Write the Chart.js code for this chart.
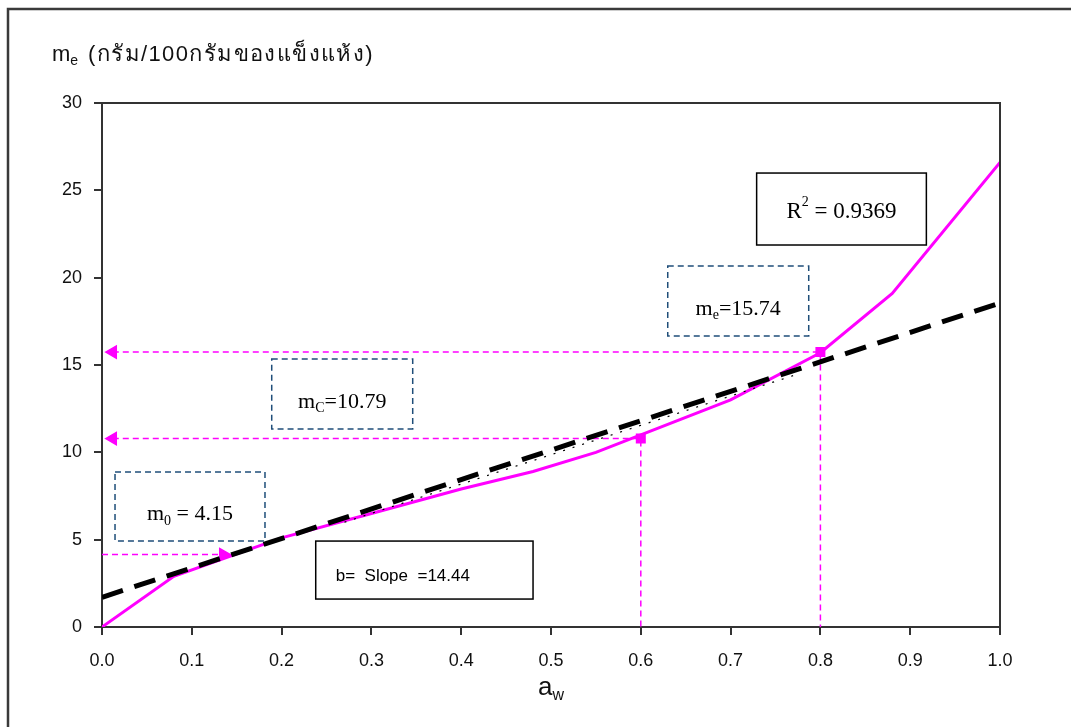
<!DOCTYPE html>
<html>
<head>
<meta charset="utf-8">
<script src="https://cdn.jsdelivr.net/npm/chart.js@4/dist/chart.umd.min.js"></script>
<style>
  body { margin: 0; background: #fff; }
  canvas { display: block; }
</style>
</head>
<body>
<canvas id="isothermChart" width="1071" height="727"></canvas>
<script>
// sorption isotherm
const awValues = [0, 0.08, 0.2, 0.3, 0.4, 0.48, 0.55, 0.6, 0.7, 0.8, 0.88, 1.0];
const meValues = [0, 2.9, 5.1, 6.5, 7.9, 8.9, 10.0, 11.0, 13.0, 15.7, 19.1, 26.6];

// linear fit (thick dashed) and thin tangent
const fitAw = [0, 1.0];
const fitMe = [1.7, 18.55];
const tangentAw = [0.27, 0.77];
const tangentMe = [6.0, 14.4];

// reading points
const m0 = 4.15;
const m0Aw = 0.135;
const mC = 10.79;
const mCAw = 0.6;
const mE = 15.74;
const mEAw = 0.8;

const xTicks = [0, 0.1, 0.2, 0.3, 0.4, 0.5, 0.6, 0.7, 0.8, 0.9, 1.0];
const yTicks = [0, 5, 10, 15, 20, 25, 30];

const pts = (xs, ys) => xs.map((x, i) => ({ x: x, y: ys[i] }));

const PINK = "#ff00ff";
const sansFont = "'Liberation Sans', Arial, 'Noto Sans', sans-serif";
const serifFont = "'Liberation Serif', 'Times New Roman', 'DejaVu Serif', serif";

const guideStyle = {
    borderColor: PINK,
    borderWidth: 1.5,
    borderDash: [6, 4],
    backgroundColor: PINK,
    pointBackgroundColor: PINK,
    pointBorderColor: PINK,
    fill: false,
    tension: 0
};

// text boxes, in data units
const notes = [
    { x0: 0.0145, x1: 0.1815, y0: 8.87, y1: 4.92, dashed: true, font: serifFont, size: 22, dy: 8,
      parts: [["m", 0], ["0", 1], [" = 4.15", 0]] },
    { x0: 0.238, x1: 0.48, y0: 4.92, y1: 1.6, dashed: false, font: sansFont, size: 17, dy: 6, left: 20,
      parts: [["b=  Slope  =14.44", 0]] },
    { x0: 0.189, x1: 0.346, y0: 15.34, y1: 11.34, dashed: true, font: serifFont, size: 22, dy: 8,
      parts: [["m", 0], ["C", 1], ["=10.79", 0]] },
    { x0: 0.630, x1: 0.787, y0: 20.67, y1: 16.66, dashed: true, font: serifFont, size: 22, dy: 8,
      parts: [["m", 0], ["e", 1], ["=15.74", 0]] },
    { x0: 0.729, x1: 0.918, y0: 25.99, y1: 21.87, dashed: false, font: serifFont, size: 23, dy: 3,
      parts: [["R", 0], ["2", 2], [" = 0.9369", 0]] }
];

function drawParts(ctx, parts, font, size, cx, cy, align, spacing) {
    const small = Math.round(size * 0.62);
    let total = 0;
    ctx.letterSpacing = (spacing || 0) + "px";
    parts.forEach(p => {
        ctx.font = (p[1] ? small : size) + "px " + font;
        total += ctx.measureText(p[0]).width;
    });
    let x = align === "left" ? cx : cx - total / 2;
    ctx.textBaseline = "middle";
    ctx.textAlign = "left";
    parts.forEach(p => {
        ctx.font = (p[1] ? small : size) + "px " + font;
        let y = cy;
        if (p[1] === 1) y = cy + size * 0.3;
        if (p[1] === 2) y = cy - size * 0.4;
        ctx.fillText(p[0], x, y);
        x += ctx.measureText(p[0]).width;
    });
    ctx.letterSpacing = "0px";
}

const framePlugin = {
    id: "frame",
    beforeDraw(chart) {
        const ctx = chart.ctx;
        ctx.save();
        ctx.fillStyle = "#fff";
        ctx.fillRect(0, 0, chart.width, chart.height);
        ctx.strokeStyle = "#3a3a3a";
        ctx.lineWidth = 2.5;
        ctx.beginPath();
        ctx.moveTo(8, chart.height);
        ctx.lineTo(8, 9);
        ctx.lineTo(chart.width, 9);
        ctx.stroke();
        ctx.restore();
    },
    afterDraw(chart) {
        const ctx = chart.ctx;
        const a = chart.chartArea;
        const xs = chart.scales.x;
        const ys = chart.scales.y;
        ctx.save();

        // top and right edges of the plot box
        ctx.strokeStyle = "#333";
        ctx.lineWidth = 2;
        ctx.beginPath();
        ctx.moveTo(a.left, a.top);
        ctx.lineTo(a.right, a.top);
        ctx.lineTo(a.right, a.bottom);
        ctx.stroke();

        // note boxes
        notes.forEach(n => {
            const l = xs.getPixelForValue(n.x0);
            const r = xs.getPixelForValue(n.x1);
            const t = ys.getPixelForValue(n.y0);
            const b = ys.getPixelForValue(n.y1);
            ctx.fillStyle = "#fff";
            ctx.fillRect(l, t, r - l, b - t);
            ctx.lineWidth = 1.5;
            if (n.dashed) {
                ctx.strokeStyle = "#1f4e79";
                ctx.setLineDash([6, 4]);
            } else {
                ctx.strokeStyle = "#000";
                ctx.setLineDash([]);
            }
            ctx.strokeRect(l, t, r - l, b - t);
            ctx.setLineDash([]);
            ctx.fillStyle = "#000";
            if (n.left) {
                drawParts(ctx, n.parts, n.font, n.size, l + n.left, (t + b) / 2 + n.dy, "left");
            } else {
                drawParts(ctx, n.parts, n.font, n.size, (l + r) / 2, (t + b) / 2 + n.dy, "center");
            }
        });

        // axis titles
        ctx.fillStyle = "#111";
        drawParts(ctx, [["m", 0], ["e", 1]], sansFont, 22, 52, 55, "left");
        drawParts(ctx, [["(กรัม/100กรัมของแข็งแห้ง)", 0]], sansFont, 22, 88, 55, "left", 1.4);
        drawParts(ctx, [["a", 0], ["w", 1]], sansFont, 26, (a.left + a.right) / 2, 688, "center");
        ctx.restore();
    }
};

const ctx = document.getElementById("isothermChart");

new Chart(ctx, {
    type: "line",
    data: {
        datasets: [
            {
                label: "Linear fit",
                data: pts(fitAw, fitMe),
                borderColor: "#000",
                borderWidth: 5,
                borderDash: [22, 12],
                pointRadius: 0,
                fill: false,
                tension: 0
            },
            {
                label: "Tangent",
                data: pts(tangentAw, tangentMe),
                borderColor: "#000",
                borderWidth: 1.2,
                borderDash: [2, 8],
                pointRadius: 0,
                fill: false,
                tension: 0
            },
            Object.assign({}, guideStyle, {
                label: "m0 guide",
                data: pts([0, m0Aw], [m0, m0]),
                pointStyle: "triangle",
                rotation: 90,
                pointRadius: [0, 7]
            }),
            Object.assign({}, guideStyle, {
                label: "mC guide",
                data: pts([0.012, mCAw, mCAw], [mC, mC, 0]),
                pointStyle: ["triangle", "rect", "rect"],
                rotation: [-90, 0, 0],
                pointRadius: [7, 6, 0]
            }),
            Object.assign({}, guideStyle, {
                label: "me guide",
                data: pts([0.012, mEAw, mEAw], [mE, mE, 0]),
                pointStyle: ["triangle", "rect", "rect"],
                rotation: [-90, 0, 0],
                pointRadius: [7, 6, 0]
            }),
            {
                label: "Isotherm",
                data: pts(awValues, meValues),
                borderColor: PINK,
                borderWidth: 3,
                pointRadius: 0,
                fill: false,
                tension: 0
            }
        ]
    },
    options: {
        responsive: false,
        animation: false,
        layout: {
            padding: { left: 0, top: 103, right: 71, bottom: 0 }
        },
        plugins: {
            legend: { display: false },
            tooltip: { enabled: false }
        },
        scales: {
            x: {
                type: "linear",
                min: 0,
                max: 1,
                afterFit(scale) { scale.height = 100; },
                afterBuildTicks(scale) { scale.ticks = xTicks.map(v => ({ value: v })); },
                ticks: {
                    callback: v => v.toFixed(1),
                    color: "#111",
                    font: { family: sansFont, size: 18 },
                    padding: 15,
                    maxRotation: 0
                },
                grid: { drawOnChartArea: false, tickLength: 8, color: "#333", lineWidth: 2 },
                border: { color: "#333", width: 2 }
            },
            y: {
                min: 0,
                max: 30,
                afterFit(scale) { scale.width = 102; },
                afterBuildTicks(scale) { scale.ticks = yTicks.map(v => ({ value: v })); },
                ticks: {
                    color: "#111",
                    font: { family: sansFont, size: 18 },
                    padding: 12
                },
                grid: { drawOnChartArea: false, tickLength: 8, color: "#333", lineWidth: 2 },
                border: { color: "#333", width: 2 }
            }
        }
    },
    plugins: [framePlugin]
});
</script>
</body>
</html>
